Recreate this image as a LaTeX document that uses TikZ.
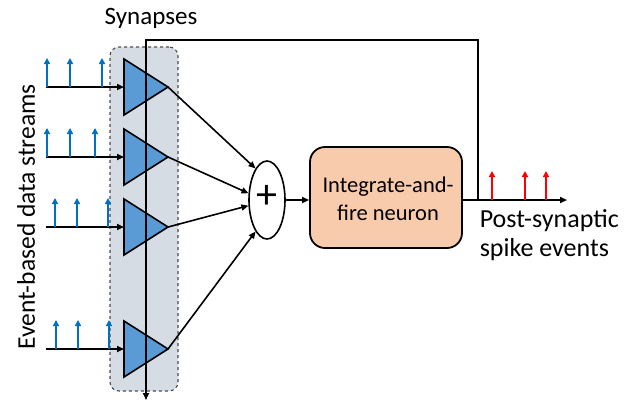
\documentclass[tikz,border=0pt]{standalone}
\usepackage{fontspec}
\setmainfont{Carlito}
\usetikzlibrary{arrows.meta,shapes.geometric}
\definecolor{shade}{HTML}{D6DCE4}
\definecolor{tri}{HTML}{5B9BD5}
\definecolor{spikeblue}{HTML}{0070C0}
\definecolor{boxfill}{HTML}{F8CBAD}
\begin{document}
\begin{tikzpicture}[x=1pt,y=-1pt,
  line width=1.6pt,
  arr/.style={-{Triangle[length=7pt,width=6pt]}},
  bspike/.style={draw=spikeblue,line width=1.5pt,-{Triangle[length=6pt,width=6pt]}},
  rspike/.style={draw=red,line width=1.5pt,-{Triangle[length=6pt,width=6pt]}},
  txt/.style={font=\fontsize{25}{30}\selectfont}]
\useasboundingbox (0,0) rectangle (629,400);
% shaded band
\node[draw=black!70,dashed,line width=1.1pt,fill=shade,rounded corners=9pt,minimum width=68pt,minimum height=344pt,inner sep=0pt] (band) at (144,219) {};
\node[txt] (syn) at (151,18) {Synapses};
% triangles
\foreach \n/\y in {1/87,2/157,3/227,4/349}{
  \coordinate (in\n) at (124,\y);
  \coordinate (tip\n) at (168,\y);
  \draw[fill=tri,line width=1.6pt] (124,\y-28) -- (168,\y) -- (124,\y+28) -- cycle;
}
\node[draw,ellipse,minimum width=36pt,minimum height=78pt,inner sep=0pt,fill=white] (sum) at (267,200) {};
\node[font=\fontsize{42}{42}\selectfont] (plus) at (267,197) {+};
\node[draw,fill=boxfill,rounded corners=15pt,minimum width=152pt,minimum height=101pt,line width=1.8pt] (neuron) at (386,197.5) {};
\node[align=center,font=\fontsize{22.5}{28}\selectfont] (ntext) at (388,199) {Integrate-and-\\fire neuron};
% feedback line
\coordinate (fbtop) at (478,40);
\coordinate (fbl) at (146,40);
\coordinate (fbend) at (146,400);
\coordinate (fbstart) at (478,200);
\draw[arr] (fbstart) -- (fbtop) -- (fbl) -- (fbend);
% inputs
\foreach \n/\y/\a/\b/\c in {1/87/47/70/102,2/157/47/70/95,3/227/55/77/108,4/349/56/78/109}{
  \coordinate (s\n) at (46,\y);
  \draw[arr] (s\n) -- (in\n);
  \foreach \xx in {\a,\b,\c}{
    \draw[bspike] (\xx,\y) -- (\xx,\y-29);
  }
}
% to sum
\draw[arr] (tip1) -- (sum.110);
\draw[arr] (tip2) -- (sum.160);
\draw[arr] (tip3) -- (sum.197);
\draw[arr] (tip4) -- (sum.250);
\draw[arr] (sum.east) -- (neuron.west |- sum.east);
% output
\coordinate (outend) at (567,200);
\draw[arr] (neuron.east |- outend) -- (outend);
\foreach \xx in {492,525,546}{
  \draw[rspike] (\xx,200) -- (\xx,171);
}
\node[align=left,anchor=north west,inner sep=0pt,font=\fontsize{26}{29}\selectfont] (post) at (479,209) {Post-synaptic\\spike events};
\node[rotate=90,font=\fontsize{25.5}{30}\selectfont] (ev) at (26,217) {Event-based data streams};
\end{tikzpicture}
\end{document}
